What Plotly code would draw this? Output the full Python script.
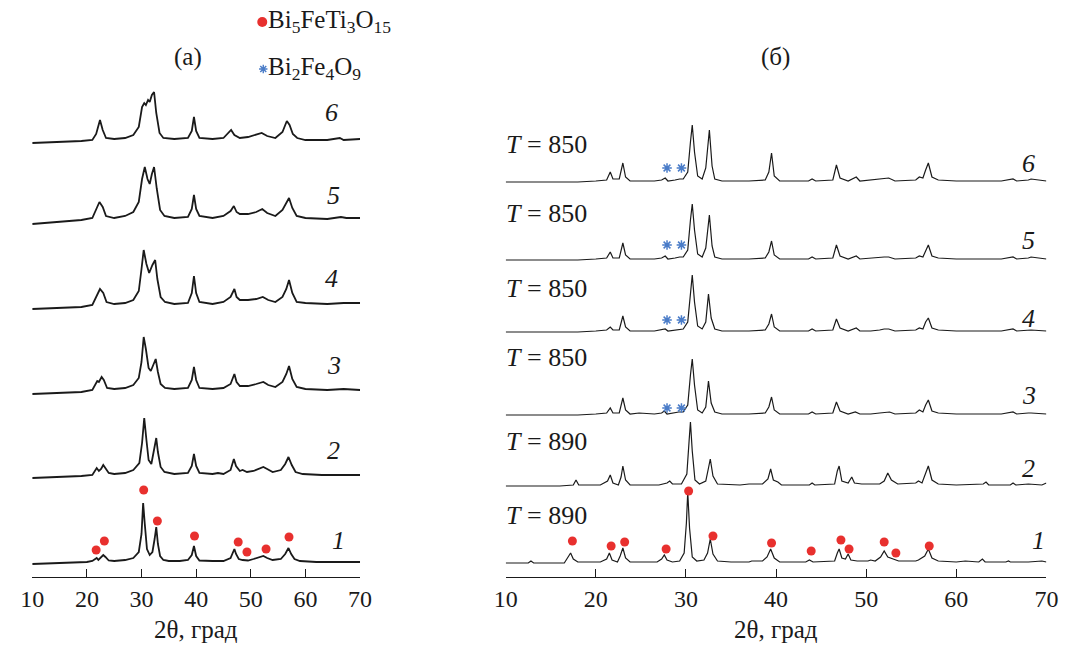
import plotly.graph_objects as go

W, H = 1075, 645

# ---------------- data (2θ, intensity above own baseline, arbitrary units) -------------
# Panel (a)
a1 = [(10,0),(14,0.5),(18,1),(20,2),(21,3),(21.5,5),(21.8,6),(22.1,4),(22.5,6),(23,9),(23.4,7),(24,3.5),(25,3),(27,4),(28.5,6),(29.5,12),(30,30),(30.3,61),(30.6,40),(31,15),(31.5,9),(32,12),(32.4,25),(32.7,37),(33,20),(33.4,8),(34,4),(35,3),(37,3),(38.5,4),(39.2,9),(39.6,18),(40,8),(40.6,3.5),(43,3),(45,3),(46.3,6),(46.8,13),(47,15),(47.3,10),(47.8,5),(48.5,4),(49.5,3.5),(50.5,5),(51.5,7),(52.3,8),(53,6),(54,4),(55.5,5),(56.3,10),(56.9,16),(57.4,10),(58,5),(59,3),(62,2),(66,2),(70,2)]
a2 = [(10,0),(15,1),(19,2),(21,3),(21.5,7),(21.8,10),(22.2,7),(22.6,9),(23,13),(23.4,10),(24,5),(25,4),(27,5),(28.5,8),(29.6,15),(30.1,35),(30.5,60),(30.9,38),(31.3,18),(31.8,14),(32.3,28),(32.7,40),(33,26),(33.5,11),(34.2,6),(36,4),(38.5,5),(39.2,12),(39.6,24),(40,12),(40.6,5),(43,4),(44,5),(45,4),(46.3,8),(46.9,19),(47.3,12),(48,7),(48.5,8),(49.3,6),(50.5,7),(51.5,9),(52.3,11),(53,9),(54,6),(55.5,8),(56.3,14),(56.9,21),(57.5,13),(58.2,6),(59.5,4),(63,3),(66,3),(70,3)]
a3 = [(10,0),(15,1),(19,2),(21,4),(21.5,9),(21.9,13),(22.2,12),(22.7,17),(23.1,14),(23.7,6),(25,5),(27,6),(28.5,9),(29.5,16),(30,32),(30.4,57),(30.8,45),(31.3,26),(31.7,23),(32.2,30),(32.6,35),(33,22),(33.5,10),(34.3,6),(36,5),(38.5,6),(39.2,14),(39.6,27),(40,14),(40.6,6),(43,5),(45,6),(46.3,10),(47,20),(47.4,12),(48,8),(49.5,8),(51,10),(52.3,12),(53.2,9),(54.5,7),(55.8,12),(56.5,20),(57,28),(57.6,15),(58.4,7),(60,5),(64,4),(67,5),(70,4)]
a4 = [(10,0),(15,1),(19,2),(21,4),(21.7,12),(22.4,20),(23,16),(23.6,7),(25,5),(27,6),(28.5,9),(29.5,18),(30,40),(30.4,59),(30.9,45),(31.4,36),(32,44),(32.5,49),(32.9,30),(33.5,12),(34.3,7),(36,5),(38.5,6),(39.2,16),(39.6,33),(40,16),(40.6,7),(43,5),(45,7),(46.3,12),(47,20),(47.4,12),(48,9),(49.5,9),(51,10),(52.2,12),(53.2,9),(54.5,7),(55.8,12),(56.5,20),(57,29),(57.6,16),(58.4,7),(60,6),(64,5),(67,6),(70,6)]
a5 = [(10,0),(15,2),(19,4),(21,6),(21.7,14),(22.3,22),(22.9,17),(23.5,8),(25,6),(27,8),(28.5,12),(29.5,22),(30.1,45),(30.6,57),(31.1,45),(31.5,40),(31.9,50),(32.3,57),(32.8,35),(33.4,14),(34.2,8),(36,6),(38.5,7),(39.2,15),(39.6,29),(40,15),(40.6,8),(43,6),(45,8),(46.3,13),(46.9,18),(47.4,12),(48,10),(49.5,10),(51,12),(52.1,15),(53,11),(54.5,8),(55.8,14),(56.5,21),(57,26),(57.6,16),(58.4,8),(60,6),(64,5),(66.5,7),(67.5,6),(70,6)]
a6 = [(10,0),(15,1),(19,2),(21,3),(21.7,9),(22.4,23),(22.9,13),(23.5,5),(25,4),(27,5),(28.5,8),(29.5,16),(30.1,36),(30.5,40),(30.8,38),(31.2,43),(31.5,41),(31.9,48),(32.3,51),(32.7,30),(33.3,10),(34,5),(36,4),(38.5,5),(39.2,12),(39.6,26),(40,12),(40.6,5),(43,4),(45,5),(45.8,9),(46.4,13),(47,8),(48,5),(49.5,6),(51,8),(52,10),(53,7),(54.5,5),(55.8,11),(56.6,22),(57.1,18),(57.7,9),(58.5,5),(60,3),(64,3),(66.3,5),(67,3),(70,4)]
curves_a = [a1, a2, a3, a4, a5, a6]
offsets_a = [13, 99, 183, 268, 353, 434]

# Panel (б)
b1 = [(10,0),(12.5,0),(12.8,2),(13.1,0),(16.5,0),(16.9,5),(17.2,10),(17.5,4),(18,1),(20.5,1),(21.2,4),(21.5,10),(21.8,3),(22.4,1),(22.7,7),(23,15),(23.3,5),(23.8,1),(26.8,1),(27.3,4),(27.6,8),(27.9,3),(28.5,1),(29.3,2),(29.8,10),(30.05,40),(30.2,71),(30.4,35),(30.7,6),(31.2,2),(32,3),(32.4,10),(32.7,24),(33,9),(33.5,2),(35,1),(37,1),(37.3,2),(38.5,2),(39,6),(39.4,14),(39.8,5),(40.4,1),(43.3,1),(43.7,3),(44.1,1),(46.5,2),(46.8,10),(47,14),(47.3,5),(47.7,4),(48,9),(48.3,3),(49,2),(50.2,2),(50.5,3),(51,2),(51.6,6),(52,12),(52.4,6),(52.9,4),(53.2,3),(53.6,2),(55.5,2),(55.8,3),(56.5,7),(56.9,14),(57.3,5),(58,2),(60,1),(61,2),(62.5,1),(62.9,4),(63.2,1),(65.5,1),(65.8,2),(66,1),(68,1),(69.5,2),(70,1)]
b2 = [(10,0),(16,0),(17.5,1),(17.8,6),(18.1,1),(20.5,1),(21.3,5),(21.6,11),(21.9,3),(22.5,1),(22.8,9),(23,20),(23.3,6),(23.8,1),(27,1),(27.9,3),(28.2,5),(28.5,2),(29.5,2),(30.1,12),(30.35,45),(30.5,64),(30.7,35),(31,6),(31.5,2),(32.2,5),(32.5,18),(32.7,27),(33,10),(33.5,2),(36,1),(37,2),(38.5,2),(39.1,7),(39.4,17),(39.7,6),(40.2,4),(40.6,1),(43.7,1),(44,3),(44.3,1),(46.5,2),(46.8,15),(47,20),(47.3,5),(48,3),(48.4,9),(48.7,3),(49.5,2),(50.7,2),(51.5,2),(52,5),(52.4,13),(52.8,6),(53.5,2),(55.5,3),(55.8,5),(56.2,3),(56.6,12),(56.9,20),(57.3,6),(58,2),(60,1),(63,2),(63.3,4),(63.6,1),(66,1),(66.3,3),(66.6,1),(68,2),(69.5,1),(70,3)]
b3 = [(10,0),(18,0),(20,1),(21.2,2),(21.6,7),(21.9,2),(22.6,2),(22.9,12),(23,17),(23.3,5),(23.8,1),(24.8,2),(26.5,1),(27.3,2),(27.6,4),(27.9,1),(28.5,2),(29.2,3),(29.7,3),(30.2,10),(30.5,40),(30.7,56),(30.95,30),(31.3,5),(31.8,2),(32.2,8),(32.5,34),(32.8,12),(33.2,3),(34,1),(37,1),(38.8,2),(39.2,8),(39.5,18),(39.8,5),(40.4,1),(43.6,1),(44,3),(44.4,1),(46.3,2),(46.7,13),(47.1,4),(48,1),(48.8,3),(49.3,1),(50.5,1),(51.5,2),(52.2,3),(52.6,3),(53.2,1),(55.5,2),(55.9,5),(56.3,3),(56.6,10),(56.9,15),(57.3,4),(58,2),(60,1),(65,1),(66.3,3),(66.7,1),(68,2),(68.3,2),(70,1)]
b4 = [(10,0),(18,0),(20,1),(21.2,2),(21.6,5),(21.9,2),(22.6,2),(22.9,12),(23,16),(23.3,5),(23.8,1),(26.5,1),(27.3,2),(27.7,3),(28,1),(28.8,2),(29.3,3),(29.7,3),(30.2,10),(30.5,40),(30.7,57),(30.95,30),(31.3,6),(31.8,3),(32.2,10),(32.5,38),(32.8,14),(33.2,3),(34,1),(37,1),(38.8,2),(39.2,8),(39.5,18),(39.8,5),(40.4,1),(43.6,1),(44,3),(44.4,1),(46.3,2),(46.7,13),(47.1,4),(48,1),(48.9,4),(49.3,1),(50.5,1),(51.5,2),(52,3),(52.5,3),(53.2,1),(55.5,2),(55.9,4),(56.3,3),(56.6,10),(56.9,14),(57.3,4),(58,2),(60,1),(65,1),(66.3,3),(66.7,1),(68,2),(68.3,2),(70,1)]
b5 = [(10,0),(18,0),(20,1),(21.2,2),(21.6,8),(21.9,2),(22.6,2),(22.9,12),(23,17),(23.3,5),(23.8,1),(26.5,1),(27.3,2),(27.7,4),(28,1),(28.8,2),(29.3,3),(29.7,3),(30.2,10),(30.5,40),(30.7,56),(30.95,30),(31.3,6),(31.8,3),(32.2,12),(32.6,45),(32.9,14),(33.2,3),(34,1),(37,1),(38.8,2),(39.2,8),(39.5,19),(39.8,5),(40.4,1),(43.6,1),(44,3),(44.4,1),(46.3,2),(46.7,15),(47.1,4),(48,1),(48.9,4),(49.3,1),(50.5,2),(51.5,3),(52,3),(52.5,3),(53.2,1),(55.5,2),(55.9,4),(56.3,3),(56.6,10),(56.9,15),(57.3,4),(58,2),(60,1),(65,1),(66.3,3),(66.7,1),(68,2),(68.3,3),(70,1)]
b6 = [(10,0),(18,0),(20,1),(21.2,2),(21.6,10),(21.9,3),(22.6,3),(22.9,14),(23,19),(23.3,5),(23.8,1),(26.5,1),(27.3,2),(27.7,4),(28,1),(28.8,2),(29.3,3),(29.7,3),(30.2,10),(30.5,40),(30.7,57),(30.95,30),(31.3,6),(31.8,3),(32.2,14),(32.6,52),(32.9,16),(33.2,3),(34,1),(37,1),(38.8,2),(39.2,10),(39.5,29),(39.8,6),(40.4,1),(43.6,1),(44,3),(44.4,1),(46.3,2),(46.7,17),(47.1,4),(48,1),(48.9,5),(49.3,1),(50.5,2),(51.5,3),(52,4),(52.5,4),(53.2,1),(55.5,2),(55.9,5),(56.3,4),(56.6,12),(56.9,19),(57.3,5),(58,2),(60,1),(65,1),(66.3,3),(66.7,1),(68,2),(68.3,3),(70,1)]
curves_b = [b1, b2, b3, b4, b5, b6]
offsets_b = [14, 91, 162, 245, 317, 395]

# Phase markers
dots_a_x = [21.7, 23.2, 30.4, 32.9, 39.7, 47.7, 49.3, 52.8, 57.0]
dots_a_y = [27, 36, 87, 56, 41, 35, 25, 28, 40]
dots_b_x = [17.4, 21.7, 23.2, 27.8, 30.3, 33.0, 39.5, 43.9, 47.2, 48.1, 52.0, 53.3, 57.0]
dots_b_y = [36, 31, 35, 28, 86, 41, 34, 26, 37, 28, 35, 24, 31]
stars_x = [27.9, 29.5, 27.9, 29.5, 27.9, 29.5, 27.9, 29.5]
stars_y = [169, 169, 257, 257, 332, 332, 409, 409]

curve_labels = ["1", "2", "3", "4", "5", "6"]
temp_labels = ["890", "890", "850", "850", "850", "850"]
x_ticks = [10, 20, 30, 40, 50, 60, 70]

# ---------------- figure ----------------
FONT = "Liberation Serif, Times New Roman, DejaVu Serif, serif"
BLACK = "#1a1a1a"
RED = "#e8302e"
BLUE = "#4a7cc8"

def px(x, y):
    return x / W, (H - y) / H

fig = go.Figure()

for c, off in zip(curves_a, offsets_a):
    fig.add_trace(go.Scatter(x=[p[0] for p in c], y=[p[1] + off for p in c], mode="lines",
                             line=dict(color=BLACK, width=1.8), xaxis="x", yaxis="y"))
for c, off in zip(curves_b, offsets_b):
    fig.add_trace(go.Scatter(x=[p[0] for p in c], y=[p[1] + off for p in c], mode="lines",
                             line=dict(color=BLACK, width=1.2), xaxis="x2", yaxis="y2"))

fig.add_trace(go.Scatter(x=dots_a_x, y=dots_a_y, mode="markers", xaxis="x", yaxis="y",
                         marker=dict(color=RED, size=9, line=dict(width=0))))
fig.add_trace(go.Scatter(x=dots_b_x, y=dots_b_y, mode="markers", xaxis="x2", yaxis="y2",
                         marker=dict(color=RED, size=9, line=dict(width=0))))
fig.add_trace(go.Scatter(x=stars_x, y=stars_y, mode="markers", xaxis="x2", yaxis="y2",
                         marker=dict(symbol="asterisk-open", color=BLUE, size=8,
                                     line=dict(color=BLUE, width=1.5))))

# legend symbols on a full-page helper axis measured in page pixels
fig.add_trace(go.Scatter(x=[256], y=[22], mode="markers", xaxis="x3", yaxis="y3",
                         marker=dict(color=RED, size=10, line=dict(width=0))))
fig.add_trace(go.Scatter(x=[257], y=[69], mode="markers", xaxis="x3", yaxis="y3",
                         marker=dict(symbol="asterisk-open", color=BLUE, size=7,
                                     line=dict(color=BLUE, width=1.4))))

y_bottom = (H - 577) / H
y_top = (H - 80) / H
ax_common = dict(range=[10, 70], tickvals=x_ticks, ticks="inside", ticklen=8, tickwidth=1.2,
                 tickcolor=BLACK, showline=True, linecolor=BLACK, linewidth=1.2,
                 showgrid=False, zeroline=False,
                 tickfont=dict(family=FONT, size=24, color=BLACK))
y_common = dict(range=[0, 497], visible=False, domain=[y_bottom, y_top])

fig.update_layout(
    width=W, height=H, margin=dict(l=0, r=0, t=0, b=0),
    paper_bgcolor="white", plot_bgcolor="rgba(0,0,0,0)", showlegend=False,
    font=dict(family=FONT, color=BLACK),
    xaxis=dict(domain=[20.7 / W, 356 / W], anchor="y", **ax_common),
    yaxis=dict(anchor="x", **y_common),
    xaxis2=dict(domain=[505 / W, 1058 / W], anchor="y2", **ax_common),
    yaxis2=dict(anchor="x2", **y_common),
    xaxis3=dict(domain=[0, 1], range=[0, W], visible=False, anchor="y3"),
    yaxis3=dict(domain=[0, 1], range=[H, 0], visible=False, anchor="x3"),
)

ann = []
def text(x, y, s, size=22, xanchor="center", italic=False):
    fx, fy = px(x, y)
    ann.append(dict(x=fx, y=fy, xref="paper", yref="paper", text=s, showarrow=False,
                    xanchor=xanchor, yanchor="middle",
                    font=dict(family=FONT, size=size, color=BLACK,
                              style="italic" if italic else "normal")))

# axis titles
text(188, 629, "2θ, град", size=25)
text(781, 629, "2θ, град", size=25)
# panel labels
text(180, 57, "(а)", size=25)
text(781, 57, "(б)", size=25)
# legend texts
text(260, 22, "Bi<sub>5</sub>FeTi<sub>3</sub>O<sub>15</sub>", size=25, xanchor="left")
text(260, 68, "Bi<sub>2</sub>Fe<sub>4</sub>O<sub>9</sub>", size=25, xanchor="left")

# curve numbers
num_a_pos = [(334, 540), (329, 450), (329, 365), (327, 278), (329, 195), (327, 113)]
num_b_pos = [(1050, 540), (1040, 468), (1040, 395), (1040, 318), (1040, 241), (1040, 163)]
for lab, (x, y) in zip(curve_labels, num_a_pos):
    text(x, y, lab, size=26, italic=True)
for lab, (x, y) in zip(curve_labels, num_b_pos):
    text(x, y, lab, size=26, italic=True)

# temperature labels
t_pos_y = [515, 441, 357, 288, 213, 145]
for lab, y in zip(temp_labels, t_pos_y):
    text(503, y, "<i>T</i> = " + lab, size=26, xanchor="left")

fig.update_layout(annotations=ann)
fig.write_html("out.html", config={"displayModeBar": False},
               post_script="document.body.style.margin='0';document.body.style.padding='0';")
